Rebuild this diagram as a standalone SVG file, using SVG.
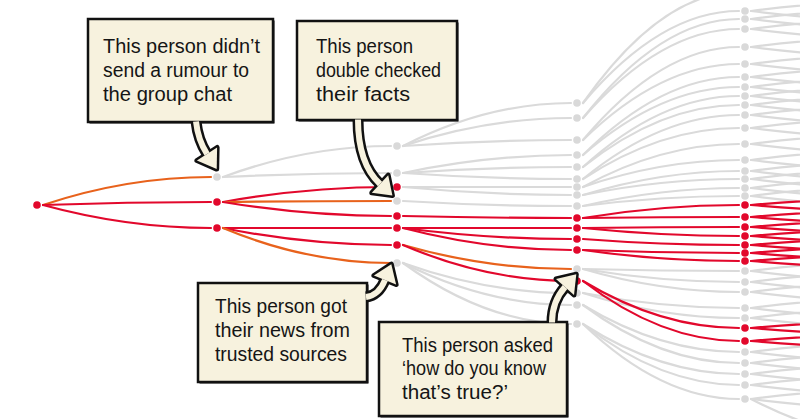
<svg xmlns="http://www.w3.org/2000/svg" width="800" height="419" viewBox="0 0 800 419">
<style>
.g{fill:none;stroke:#dadada;stroke-width:2.2;stroke-linecap:round}
.r{fill:none;stroke:#e2082c;stroke-width:2.2;stroke-linecap:round}
.o{fill:none;stroke:#e8621c;stroke-width:2.2;stroke-linecap:round}
.ng{fill:#d9d9d9}
.nr{fill:#e2082c}
.box{fill:#f7f2de;stroke:#111;stroke-width:2.5}
.sh{fill:#111}
.t{font-family:"Liberation Sans",Arial,sans-serif;font-size:20px;fill:#151515}
.ao{fill:none;stroke:#111;stroke-width:11}
.ai{fill:none;stroke:#f7f2de;stroke-width:6}
.ho{fill:#111;stroke:#111;stroke-width:5;stroke-linejoin:round}
.hi{fill:#f7f2de}
</style>
<defs>
<path id="u" d="M751,0 Q829,-10 907,-10"/>
<path id="d" d="M751,0 Q829,10 907,10"/>
<path id="ur" d="M751,0 Q829,-7 907,-7"/>
<path id="dr" d="M751,0 Q829,7 907,7"/>
<path id="m" d="M751,0 L907,0"/>
</defs>
<rect width="800" height="419" fill="#fff"/>
<g id="connectors">
<g id="gray-edges">
<path class="g" d="M223,177 Q307,146 391,146"/>
<path class="g" d="M223,177 Q307,173 391,173"/>
<path class="g" d="M403,146 Q487,103 571,103"/>
<path class="g" d="M403,146 Q487,118 571,118"/>
<path class="g" d="M403,146 Q487,140 571,140"/>
<path class="g" d="M403,173 Q487,155 571,155"/>
<path class="g" d="M403,173 Q487,167 571,167"/>
<path class="g" d="M403,173 Q487,179 571,179"/>
<path class="g" d="M403,187 Q487,187 571,187"/>
<path class="g" d="M403,187 Q487,195 571,195"/>
<path class="g" d="M403,201 Q487,206 571,206"/>
<path class="g" d="M403,263 Q487,293 571,293"/>
<path class="g" d="M403,263 Q487,305 571,305"/>
<path class="g" d="M403,263 Q487,324 571,324"/>
<path class="g" d="M583,103 Q661,-8 739,-8"/>
<path class="g" d="M583,103 Q661,11 739,11"/>
<path class="g" d="M583,118 Q661,19 739,19"/>
<path class="g" d="M583,118 Q661,29 739,29"/>
<path class="g" d="M583,140 Q661,47 739,47"/>
<path class="g" d="M583,140 Q661,64 739,64"/>
<path class="g" d="M583,155 Q661,77 739,77"/>
<path class="g" d="M583,155 Q661,87 739,87"/>
<path class="g" d="M583,167 Q661,96 739,96"/>
<path class="g" d="M583,167 Q661,105 739,105"/>
<path class="g" d="M583,179 Q661,115 739,115"/>
<path class="g" d="M583,179 Q661,128 739,128"/>
<path class="g" d="M583,187 Q661,144 739,144"/>
<path class="g" d="M583,187 Q661,160 739,160"/>
<path class="g" d="M583,195 Q661,171 739,171"/>
<path class="g" d="M583,195 Q661,179 739,179"/>
<path class="g" d="M583,206 Q661,188 739,188"/>
<path class="g" d="M583,206 Q661,196 739,196"/>
<path class="g" d="M583,269 Q661,271 739,271"/>
<path class="g" d="M583,269 Q661,282 739,282"/>
<path class="g" d="M583,269 Q661,292 739,292"/>
<path class="g" d="M583,293 Q661,308 739,308"/>
<path class="g" d="M583,293 Q661,318 739,318"/>
<path class="g" d="M583,305 Q661,352 739,352"/>
<path class="g" d="M583,305 Q661,363 739,363"/>
<path class="g" d="M583,324 Q661,374 739,374"/>
<path class="g" d="M583,324 Q661,385 739,385"/>
<path class="g" d="M583,324 Q661,399 739,399"/>
<path class="g" d="M751,399 Q829,440 907,440"/>
<use class="g" href="#u" y="11"/><use class="g" href="#d" y="11"/>
<use class="g" href="#u" y="19"/><use class="g" href="#d" y="19"/>
<use class="g" href="#u" y="29"/><use class="g" href="#d" y="29"/>
<use class="g" href="#u" y="47"/><use class="g" href="#d" y="47"/>
<use class="g" href="#u" y="64"/><use class="g" href="#d" y="64"/>
<use class="g" href="#u" y="77"/><use class="g" href="#d" y="77"/>
<use class="g" href="#u" y="87"/><use class="g" href="#d" y="87"/>
<use class="g" href="#u" y="96"/><use class="g" href="#d" y="96"/>
<use class="g" href="#u" y="105"/><use class="g" href="#d" y="105"/>
<use class="g" href="#u" y="115"/><use class="g" href="#d" y="115"/>
<use class="g" href="#u" y="128"/><use class="g" href="#d" y="128"/>
<use class="g" href="#u" y="144"/><use class="g" href="#d" y="144"/>
<use class="g" href="#u" y="160"/><use class="g" href="#d" y="160"/>
<use class="g" href="#u" y="171"/><use class="g" href="#d" y="171"/>
<use class="g" href="#u" y="179"/><use class="g" href="#d" y="179"/>
<use class="g" href="#u" y="188"/><use class="g" href="#d" y="188"/>
<use class="g" href="#u" y="196"/><use class="g" href="#d" y="196"/>
<use class="g" href="#u" y="271"/><use class="g" href="#d" y="271"/>
<use class="g" href="#u" y="282"/><use class="g" href="#d" y="282"/>
<use class="g" href="#u" y="292"/><use class="g" href="#d" y="292"/>
<use class="g" href="#u" y="308"/><use class="g" href="#d" y="308"/>
<use class="g" href="#u" y="318"/><use class="g" href="#d" y="318"/>
<use class="g" href="#u" y="352"/><use class="g" href="#d" y="352"/>
<use class="g" href="#u" y="363"/><use class="g" href="#d" y="363"/>
<use class="g" href="#u" y="374"/><use class="g" href="#d" y="374"/>
<use class="g" href="#u" y="385"/><use class="g" href="#d" y="385"/>
<use class="g" href="#u" y="399"/><use class="g" href="#d" y="399"/>
</g>
<g id="red-edges">
<path class="o" d="M43,205 Q127,177 211,177"/>
<path class="r" d="M43,205 Q127,202 211,202"/>
<path class="r" d="M43,205 Q127,228 211,228"/>
<path class="r" d="M223,202 Q307,187 391,187"/>
<path class="o" d="M223,202 Q307,201 391,201"/>
<path class="r" d="M223,202 Q307,216 391,216"/>
<path class="r" d="M223,228 Q307,228 391,228"/>
<path class="r" d="M223,228 Q307,245 391,245"/>
<path class="o" d="M223,228 Q307,263 391,263"/>
<path class="r" d="M403,216 Q487,218 571,218"/>
<path class="r" d="M403,228 Q487,228 571,228"/>
<path class="r" d="M403,228 Q487,239 571,239"/>
<path class="r" d="M403,228 Q487,250 571,250"/>
<path class="o" d="M403,245 Q487,269 571,269"/>
<path class="r" d="M403,245 Q487,281 571,281"/>
<path class="r" d="M583,218 Q661,205 739,205"/>
<path class="r" d="M583,218 Q661,217 739,217"/>
<path class="r" d="M583,228 Q661,227 739,227"/>
<path class="r" d="M583,228 Q661,236 739,236"/>
<path class="r" d="M583,239 Q661,245 739,245"/>
<path class="r" d="M583,250 Q661,253 739,253"/>
<path class="r" d="M583,250 Q661,261 739,261"/>
<path class="r" d="M583,281 Q661,328 739,328"/>
<path class="r" d="M583,281 Q661,341 739,341"/>
<use class="r" href="#ur" y="205"/><use class="r" href="#dr" y="205"/>
<use class="r" href="#ur" y="217"/><use class="r" href="#dr" y="217"/>
<use class="r" href="#ur" y="227"/><use class="r" href="#dr" y="227"/>
<use class="r" href="#ur" y="236"/><use class="r" href="#dr" y="236"/>
<use class="r" href="#ur" y="245"/><use class="r" href="#dr" y="245"/>
<use class="r" href="#ur" y="253"/><use class="r" href="#dr" y="253"/>
<use class="r" href="#ur" y="261"/><use class="r" href="#dr" y="261"/>
<use class="r" href="#ur" y="328"/><use class="r" href="#dr" y="328"/>
<use class="r" href="#ur" y="341"/><use class="r" href="#dr" y="341"/>
</g>
</g>
<g id="nodes">
<g id="n1-205"><circle class="nr" cx="37" cy="205" r="3.8"/></g>
<g id="n2-177"><circle class="ng" cx="217" cy="177" r="3.8"/></g>
<g id="n2-202"><circle class="nr" cx="217" cy="202" r="3.8"/></g>
<g id="n2-228"><circle class="nr" cx="217" cy="228" r="3.8"/></g>
<g id="n3-146"><circle class="ng" cx="397" cy="146" r="3.8"/></g>
<g id="n3-173"><circle class="ng" cx="397" cy="173" r="3.8"/></g>
<g id="n3-187"><circle class="nr" cx="397" cy="187" r="3.8"/></g>
<g id="n3-201"><circle class="ng" cx="397" cy="201" r="3.8"/></g>
<g id="n3-216"><circle class="nr" cx="397" cy="216" r="3.8"/></g>
<g id="n3-228"><circle class="nr" cx="397" cy="228" r="3.8"/></g>
<g id="n3-245"><circle class="nr" cx="397" cy="245" r="3.8"/></g>
<g id="n3-263"><circle class="ng" cx="397" cy="263" r="3.8"/></g>
<g id="n4-103"><circle class="ng" cx="577" cy="103" r="3.8"/></g>
<g id="n4-118"><circle class="ng" cx="577" cy="118" r="3.8"/></g>
<g id="n4-140"><circle class="ng" cx="577" cy="140" r="3.8"/></g>
<g id="n4-155"><circle class="ng" cx="577" cy="155" r="3.8"/></g>
<g id="n4-167"><circle class="ng" cx="577" cy="167" r="3.8"/></g>
<g id="n4-179"><circle class="ng" cx="577" cy="179" r="3.8"/></g>
<g id="n4-187"><circle class="ng" cx="577" cy="187" r="3.8"/></g>
<g id="n4-195"><circle class="ng" cx="577" cy="195" r="3.8"/></g>
<g id="n4-206"><circle class="ng" cx="577" cy="206" r="3.8"/></g>
<g id="n4-218"><circle class="nr" cx="577" cy="218" r="3.8"/></g>
<g id="n4-228"><circle class="nr" cx="577" cy="228" r="3.8"/></g>
<g id="n4-239"><circle class="nr" cx="577" cy="239" r="3.8"/></g>
<g id="n4-250"><circle class="nr" cx="577" cy="250" r="3.8"/></g>
<g id="n4-269"><circle class="ng" cx="577" cy="269" r="3.8"/></g>
<g id="n4-281"><circle class="nr" cx="577" cy="281" r="3.8"/></g>
<g id="n4-293"><circle class="ng" cx="577" cy="293" r="3.8"/></g>
<g id="n4-305"><circle class="ng" cx="577" cy="305" r="3.8"/></g>
<g id="n4-324"><circle class="ng" cx="577" cy="324" r="3.8"/></g>
<g id="n5-11"><circle class="ng" cx="745" cy="11" r="3.8"/></g>
<g id="n5-19"><circle class="ng" cx="745" cy="19" r="3.8"/></g>
<g id="n5-29"><circle class="ng" cx="745" cy="29" r="3.8"/></g>
<g id="n5-47"><circle class="ng" cx="745" cy="47" r="3.8"/></g>
<g id="n5-64"><circle class="ng" cx="745" cy="64" r="3.8"/></g>
<g id="n5-77"><circle class="ng" cx="745" cy="77" r="3.8"/></g>
<g id="n5-87"><circle class="ng" cx="745" cy="87" r="3.8"/></g>
<g id="n5-96"><circle class="ng" cx="745" cy="96" r="3.8"/></g>
<g id="n5-105"><circle class="ng" cx="745" cy="105" r="3.8"/></g>
<g id="n5-115"><circle class="ng" cx="745" cy="115" r="3.8"/></g>
<g id="n5-128"><circle class="ng" cx="745" cy="128" r="3.8"/></g>
<g id="n5-144"><circle class="ng" cx="745" cy="144" r="3.8"/></g>
<g id="n5-160"><circle class="ng" cx="745" cy="160" r="3.8"/></g>
<g id="n5-171"><circle class="ng" cx="745" cy="171" r="3.8"/></g>
<g id="n5-179"><circle class="ng" cx="745" cy="179" r="3.8"/></g>
<g id="n5-188"><circle class="ng" cx="745" cy="188" r="3.8"/></g>
<g id="n5-196"><circle class="ng" cx="745" cy="196" r="3.8"/></g>
<g id="n5-205"><circle class="nr" cx="745" cy="205" r="3.8"/></g>
<g id="n5-217"><circle class="nr" cx="745" cy="217" r="3.8"/></g>
<g id="n5-227"><circle class="nr" cx="745" cy="227" r="3.8"/></g>
<g id="n5-236"><circle class="nr" cx="745" cy="236" r="3.8"/></g>
<g id="n5-245"><circle class="nr" cx="745" cy="245" r="3.8"/></g>
<g id="n5-253"><circle class="nr" cx="745" cy="253" r="3.8"/></g>
<g id="n5-261"><circle class="nr" cx="745" cy="261" r="3.8"/></g>
<g id="n5-271"><circle class="ng" cx="745" cy="271" r="3.8"/></g>
<g id="n5-282"><circle class="ng" cx="745" cy="282" r="3.8"/></g>
<g id="n5-292"><circle class="ng" cx="745" cy="292" r="3.8"/></g>
<g id="n5-308"><circle class="ng" cx="745" cy="308" r="3.8"/></g>
<g id="n5-318"><circle class="ng" cx="745" cy="318" r="3.8"/></g>
<g id="n5-328"><circle class="nr" cx="745" cy="328" r="3.8"/></g>
<g id="n5-341"><circle class="nr" cx="745" cy="341" r="3.8"/></g>
<g id="n5-352"><circle class="ng" cx="745" cy="352" r="3.8"/></g>
<g id="n5-363"><circle class="ng" cx="745" cy="363" r="3.8"/></g>
<g id="n5-374"><circle class="ng" cx="745" cy="374" r="3.8"/></g>
<g id="n5-385"><circle class="ng" cx="745" cy="385" r="3.8"/></g>
<g id="n5-399"><circle class="ng" cx="745" cy="399" r="3.8"/></g>
</g>
<g id="callout-rumour">
<rect class="sh" x="89.5" y="20.5" width="185" height="103"/>
<rect class="box" x="88" y="19" width="185" height="103"/>
<path class="ao" d="M196,121.5 Q198,140 207,154"/>
<polygon class="ho" points="196.9,160.5 217.1,147.5 216.7,169.1"/>
<path class="ai" d="M196,121.5 Q198,140 207,154"/>
<polygon class="hi" points="196.9,160.5 217.1,147.5 216.7,169.1"/>
<text class="t" x="103" y="53" textLength="157" lengthAdjust="spacingAndGlyphs">This person didn’t</text>
<text class="t" x="103" y="77" textLength="146" lengthAdjust="spacingAndGlyphs">send a rumour to</text>
<text class="t" x="103" y="101" textLength="129" lengthAdjust="spacingAndGlyphs">the group chat</text>
</g>
<g id="callout-checked">
<rect class="sh" x="298.5" y="22.5" width="160" height="99"/>
<rect class="box" x="297" y="21" width="160" height="99"/>
<path class="ao" d="M358,119.5 C358,150 365,170 380,184"/>
<polygon class="ho" points="371.8,192.8 388.2,175.2 392.4,195.6"/>
<path class="ai" d="M358,119.5 C358,150 365,170 380,184"/>
<polygon class="hi" points="371.8,192.8 388.2,175.2 392.4,195.6"/>
<text class="t" x="316" y="53" textLength="97" lengthAdjust="spacingAndGlyphs">This person</text>
<text class="t" x="316" y="77" textLength="125" lengthAdjust="spacingAndGlyphs">double checked</text>
<text class="t" x="316" y="101" textLength="94" lengthAdjust="spacingAndGlyphs">their facts</text>
</g>
<g id="callout-sources">
<rect class="sh" x="199.5" y="284.5" width="169" height="99"/>
<rect class="box" x="198" y="283" width="169" height="99"/>
<path class="ao" d="M366,297 C374,296 381,290 385,280"/>
<polygon class="ho" points="396.1,284.5 373.9,275.5 391.3,264.2"/>
<path class="ai" d="M366,297 C374,296 381,290 385,280"/>
<polygon class="hi" points="396.1,284.5 373.9,275.5 391.3,264.2"/>
<text class="t" x="215" y="313" textLength="132" lengthAdjust="spacingAndGlyphs">This person got</text>
<text class="t" x="215" y="337" textLength="135" lengthAdjust="spacingAndGlyphs">their news from</text>
<text class="t" x="215" y="361" textLength="132" lengthAdjust="spacingAndGlyphs">trusted sources</text>
</g>
<g id="callout-asked">
<rect class="sh" x="380.5" y="323.5" width="188" height="94"/>
<rect class="box" x="379" y="322" width="188" height="94"/>
<path class="ao" d="M552,322.5 C552,308 557,296 565,287"/>
<polygon class="ho" points="574,295 556,279 576.3,274.3"/>
<path class="ai" d="M552,322.5 C552,308 557,296 565,287"/>
<polygon class="hi" points="574,295 556,279 576.3,274.3"/>
<text class="t" x="402" y="352" textLength="151" lengthAdjust="spacingAndGlyphs">This person asked</text>
<text class="t" x="402" y="375" textLength="144" lengthAdjust="spacingAndGlyphs">‘how do you know</text>
<text class="t" x="402" y="399" textLength="106" lengthAdjust="spacingAndGlyphs">that’s true?’</text>
</g>
</svg>
